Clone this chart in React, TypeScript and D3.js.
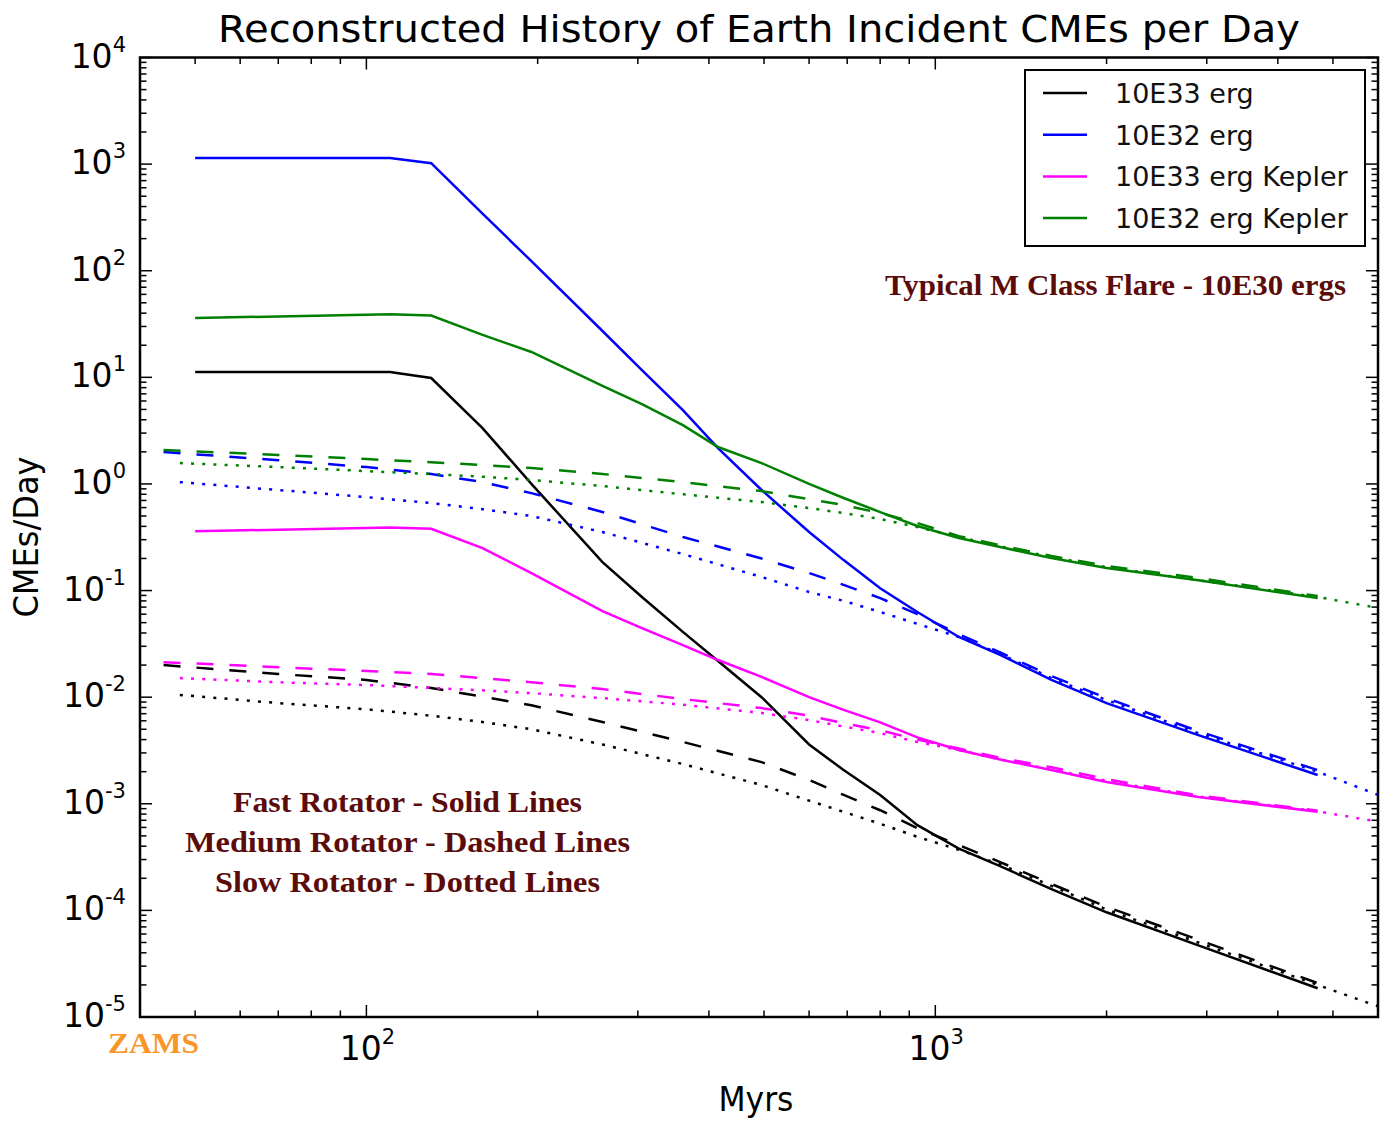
import * as d3 from 'd3';

// ages in Myr
const solidAges = [50, 110, 130, 160, 195, 260, 305, 360, 415, 495, 600, 690, 800, 930, 1100, 1300, 1600, 2000, 2900, 4700];
const dashedAges = [44, 70, 100, 130, 160, 195, 260, 360, 495, 600, 690, 800, 930, 1100, 1300, 1600, 2000, 2900, 4700];
const dottedAges = [47, 70, 100, 130, 160, 195, 260, 360, 495, 600, 690, 800, 930, 1100, 1300, 1600, 2000, 2900, 4700, 6000];

// fast rotator (solid)
const e33Fast = [11.2, 11.2, 9.85, 3.34, 1.0, 0.185, 0.087, 0.041, 0.0218, 0.01, 0.0036, 0.00207, 0.00121, 6.3e-4, 3.8e-4, 2.6e-4, 1.58e-4, 9.6e-5, 4.7e-5, 1.86e-5];
const e32Fast = [1140, 1140, 1020, 343, 123, 27.2, 11.7, 4.93, 2.17, 0.877, 0.354, 0.193, 0.105, 0.063, 0.0367, 0.0249, 0.0145, 0.0088, 0.0044, 0.00186];
const k33Fast = [0.36, 0.39, 0.38, 0.25, 0.146, 0.064, 0.0445, 0.0308, 0.0223, 0.0155, 0.01, 0.0076, 0.0058, 0.0042, 0.0032, 0.0026, 0.00207, 0.0016, 0.00116, 0.00084];
const k32Fast = [36, 39, 38, 25, 17.3, 8.3, 5.6, 3.56, 2.22, 1.57, 1.0, 0.738, 0.545, 0.403, 0.311, 0.256, 0.202, 0.163, 0.125, 0.085];

// medium rotator (dashed)
const e33Medium = [0.02, 0.0165, 0.0145, 0.0122, 0.0101, 0.0084, 0.00585, 0.0038, 0.00246, 0.00167, 0.00121, 8.7e-4, 5.9e-4, 4.1e-4, 2.84e-4, 1.77e-4, 1.08e-4, 5.3e-5, 2.08e-5];
const e32Medium = [1.99, 1.67, 1.44, 1.24, 1.04, 0.82, 0.546, 0.318, 0.2, 0.146, 0.113, 0.085, 0.06, 0.039, 0.0263, 0.0158, 0.0098, 0.0048, 0.00207];
const k33Medium = [0.0213, 0.0191, 0.0176, 0.0165, 0.0151, 0.0138, 0.0119, 0.0096, 0.0079, 0.0067, 0.0057, 0.0049, 0.004, 0.0033, 0.0027, 0.0022, 0.0017, 0.0012, 0.00086];
const k32Medium = [2.08, 1.87, 1.71, 1.6, 1.5, 1.41, 1.24, 1.04, 0.857, 0.72, 0.634, 0.533, 0.43, 0.324, 0.266, 0.211, 0.17, 0.131, 0.0888];

// slow rotator (dotted)
const e33Slow = [0.0105, 0.0088, 0.0077, 0.0067, 0.00585, 0.005, 0.0036, 0.00236, 0.0015, 0.00107, 8.4e-4, 6.5e-4, 4.9e-4, 3.7e-4, 2.7e-4, 1.7e-4, 1.02e-4, 5.0e-5, 2.0e-5, 1.26e-5];
const e32Slow = [1.04, 0.877, 0.753, 0.662, 0.58, 0.5, 0.354, 0.22, 0.134, 0.097, 0.08, 0.063, 0.0487, 0.0367, 0.0255, 0.0151, 0.0094, 0.0046, 0.002, 0.00121];
const k33Slow = [0.0151, 0.0138, 0.013, 0.0122, 0.0116, 0.0109, 0.0098, 0.0085, 0.0071, 0.0061, 0.0053, 0.0046, 0.0038, 0.0032, 0.0026, 0.0021, 0.00164, 0.00117, 0.00085, 0.00068];
const k32Slow = [1.57, 1.44, 1.32, 1.24, 1.17, 1.09, 0.955, 0.8, 0.676, 0.594, 0.533, 0.469, 0.394, 0.318, 0.26, 0.207, 0.166, 0.125, 0.087, 0.0686];

const legendLabels = ['10E33 erg', '10E32 erg', '10E33 erg Kepler', '10E32 erg Kepler'];
const seriesColors = ['#000000', '#0000ff', '#ff00ff', '#008000'];
const xTickPowers = [2, 3];
const yTickPowers = [-5, -4, -3, -2, -1, 0, 1, 2, 3, 4];
const rotatorNotes = ['Fast Rotator - Solid Lines', 'Medium Rotator - Dashed Lines', 'Slow Rotator - Dotted Lines'];

const W = 1398;
const H = 1124;
const left = 140, right = 1378, top = 57.5, bottom = 1017;

export default function App() {
  const x = d3.scaleLog().domain([40, 6000]).range([left, right]);
  const y = d3.scaleLog().domain([1e-5, 1e4]).range([bottom, top]);

  const lineGen = d3.line<[number, number]>()
    .x(d => x(d[0]))
    .y(d => y(d[1]));

  const zip = (ages: number[], vals: number[]) =>
    ages.map((a, i) => [a, vals[i]] as [number, number]);

  const solid = [e33Fast, e32Fast, k33Fast, k32Fast];
  const dashed = [e33Medium, e32Medium, k33Medium, k32Medium];
  const dotted = [e33Slow, e32Slow, k33Slow, k32Slow];

  const xTicks = x.ticks(20);
  const yTicks = y.ticks(20);
  const isMajor = (v: number) => Math.abs(Math.log10(v) - Math.round(Math.log10(v))) < 1e-9;

  const font = '"DejaVu Sans", sans-serif';
  const serif = '"Liberation Serif", "DejaVu Serif", serif';
  const noteColor = '#5c0b0b';

  return (
    <svg width={W} height={H} viewBox={`0 0 ${W} ${H}`}
      style={{ position: 'absolute', left: 0, top: 0, background: '#fff' }}>
      <defs>
        <clipPath id="plotClip">
          <rect x={left} y={top} width={right - left} height={bottom - top} />
        </clipPath>
      </defs>

      {/* title */}
      <text x={218} y={42} fontFamily={font} fontSize={38} textLength={1082}
        lengthAdjust="spacingAndGlyphs" fill="#000">
        Reconstructed History of Earth Incident CMEs per Day
      </text>

      {/* data lines */}
      <g clipPath="url(#plotClip)" fill="none" strokeWidth={2.5}>
        {solid.map((vals, i) => (
          <path key={'s' + i} d={lineGen(zip(solidAges, vals)) || ''} stroke={seriesColors[i]} />
        ))}
        {dashed.map((vals, i) => (
          <path key={'d' + i} d={lineGen(zip(dashedAges, vals)) || ''} stroke={seriesColors[i]}
            strokeDasharray="17,16" />
        ))}
        {dotted.map((vals, i) => (
          <path key={'t' + i} d={lineGen(zip(dottedAges, vals)) || ''} stroke={seriesColors[i]}
            strokeDasharray="3,8.2" />
        ))}
      </g>

      {/* ticks on all four sides */}
      <g stroke="#000" strokeWidth={1.5}>
        {xTicks.map((t, i) => {
          const len = isMajor(t) ? 12 : 6.5;
          const px = x(t);
          return (
            <g key={'xt' + i}>
              <line x1={px} x2={px} y1={bottom} y2={bottom - len} />
              <line x1={px} x2={px} y1={top} y2={top + len} />
            </g>
          );
        })}
        {yTicks.map((t, i) => {
          const len = isMajor(t) ? 12 : 6.5;
          const py = y(t);
          return (
            <g key={'yt' + i}>
              <line x1={left} x2={left + len} y1={py} y2={py} />
              <line x1={right} x2={right - len} y1={py} y2={py} />
            </g>
          );
        })}
      </g>

      {/* frame */}
      <rect x={left} y={top} width={right - left} height={bottom - top}
        fill="none" stroke="#000" strokeWidth={2.5} />

      {/* y tick labels */}
      {yTickPowers.map(p => (
        <text key={'yl' + p} x={126} y={y(Math.pow(10, p)) + 10} textAnchor="end"
          fontFamily={font} fontSize={33} fill="#000">
          10<tspan fontSize={21} dy={-16}>{p}</tspan>
        </text>
      ))}

      {/* x tick labels */}
      {xTickPowers.map(p => (
        <text key={'xl' + p} x={x(Math.pow(10, p)) + 1} y={1060} textAnchor="middle"
          fontFamily={font} fontSize={33} fill="#000">
          10<tspan fontSize={21} dy={-16}>{p}</tspan>
        </text>
      ))}

      {/* axis labels */}
      <text x={756} y={1111} textAnchor="middle" fontFamily={font} fontSize={34}
        textLength={75} lengthAdjust="spacingAndGlyphs" fill="#000">Myrs</text>
      <text transform="translate(38,537) rotate(-90)" textAnchor="middle" fontFamily={font}
        fontSize={34} textLength={161} lengthAdjust="spacingAndGlyphs" fill="#000">CMEs/Day</text>

      {/* legend */}
      <g>
        <rect x={1025} y={70} width={340} height={176} fill="#fff" stroke="#000" strokeWidth={2} />
        {legendLabels.map((lab, i) => {
          const ly = 93 + i * 41.7;
          return (
            <g key={'lg' + i}>
              <line x1={1043} x2={1087} y1={ly} y2={ly} stroke={seriesColors[i]} strokeWidth={2.5} />
              <text x={1115} y={ly + 10} fontFamily={font} fontSize={27} fill="#111">{lab}</text>
            </g>
          );
        })}
      </g>

      {/* annotations */}
      <text x={885} y={295} fontFamily={serif} fontWeight="bold" fontSize={29}
        textLength={461} lengthAdjust="spacingAndGlyphs" fill={noteColor}>
        Typical M Class Flare - 10E30 ergs
      </text>
      {rotatorNotes.map((note, i) => (
        <text key={'rn' + i} x={407.5} y={812 + i * 40} textAnchor="middle" fontFamily={serif}
          fontWeight="bold" fontSize={29} textLength={[349, 445, 385][i]}
          lengthAdjust="spacingAndGlyphs" fill={noteColor}>{note}</text>
      ))}
      <text x={108} y={1053} fontFamily={serif} fontWeight="bold" fontSize={29}
        textLength={91} lengthAdjust="spacingAndGlyphs" fill="#f8962a">ZAMS</text>
    </svg>
  );
}
